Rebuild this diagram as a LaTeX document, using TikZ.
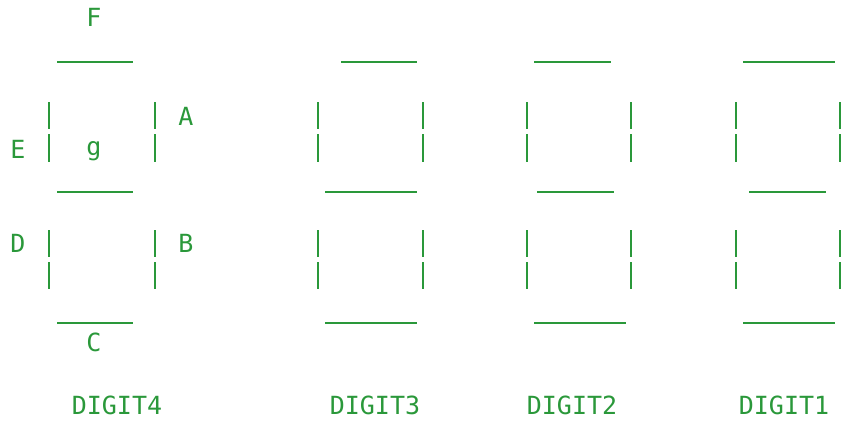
\documentclass[tikz,border=0pt]{standalone}
\usepackage{fontspec}
\usepackage{tikz}
\newfontfamily\segfont{DejaVu Sans Mono}
\definecolor{segGreen}{RGB}{42, 152, 58}
\usetikzlibrary{positioning}

\begin{document}
\begin{tikzpicture}[
    x=1pt, y=-1pt,
    seg/.style={draw=segGreen, line width=2pt},
    pin/.style={text=segGreen, font=\segfont\fontsize{25}{28}\selectfont, inner sep=0pt},
    tag/.style={pin}
]
    \useasboundingbox (0,0) rectangle (841,421);

    % DIGIT4 with segment letters
    \node[pin] (lblF) at (94,17) {F};
    \node[pin] (lblA) at (186,116) {A};
    \node[pin] (lblE) at (18,149) {E};
    \node[pin] (lblg) at (94,151) {g};
    \node[pin] (lblD) at (18,243) {D};
    \node[pin] (lblB) at (186,243) {B};
    \node[pin] (lblC) at (94,342) {C};
    \draw[seg] (57,62) -- (133,62);
    \draw[seg] (57,192) -- (133,192);
    \draw[seg] (57,323) -- (133,323);
    \draw[seg] (49,102) -- (49,129) (49,134) -- (49,162);
    \draw[seg] (155,102) -- (155,129) (155,134) -- (155,162);
    \draw[seg] (49,230) -- (49,257) (49,262) -- (49,289);
    \draw[seg] (155,230) -- (155,257) (155,262) -- (155,289);
    \node[tag] (dig4) at (117,405) {DIGIT4};

    % DIGIT3
    \draw[seg] (341,62) -- (417,62);
    \draw[seg] (325,192) -- (417,192);
    \draw[seg] (325,323) -- (417,323);
    \draw[seg] (318,102) -- (318,129) (318,134) -- (318,162);
    \draw[seg] (423,102) -- (423,129) (423,134) -- (423,162);
    \draw[seg] (318,230) -- (318,257) (318,262) -- (318,289);
    \draw[seg] (423,230) -- (423,257) (423,262) -- (423,289);
    \node[tag] (dig3) at (375,405) {DIGIT3};

    % DIGIT2
    \draw[seg] (534,62) -- (611,62);
    \draw[seg] (537,192) -- (614,192);
    \draw[seg] (534,323) -- (626,323);
    \draw[seg] (527,102) -- (527,129) (527,134) -- (527,162);
    \draw[seg] (631,102) -- (631,129) (631,134) -- (631,162);
    \draw[seg] (527,230) -- (527,257) (527,262) -- (527,289);
    \draw[seg] (631,230) -- (631,257) (631,262) -- (631,289);
    \node[tag] (dig2) at (572,405) {DIGIT2};

    % DIGIT1
    \draw[seg] (743,62) -- (835,62);
    \draw[seg] (749,192) -- (826,192);
    \draw[seg] (743,323) -- (835,323);
    \draw[seg] (736,102) -- (736,129) (736,134) -- (736,162);
    \draw[seg] (840,102) -- (840,129) (840,134) -- (840,162);
    \draw[seg] (736,230) -- (736,257) (736,262) -- (736,289);
    \draw[seg] (840,230) -- (840,257) (840,262) -- (840,289);
    \node[tag] (dig1) at (784,405) {DIGIT1};
\end{tikzpicture}
\end{document}
